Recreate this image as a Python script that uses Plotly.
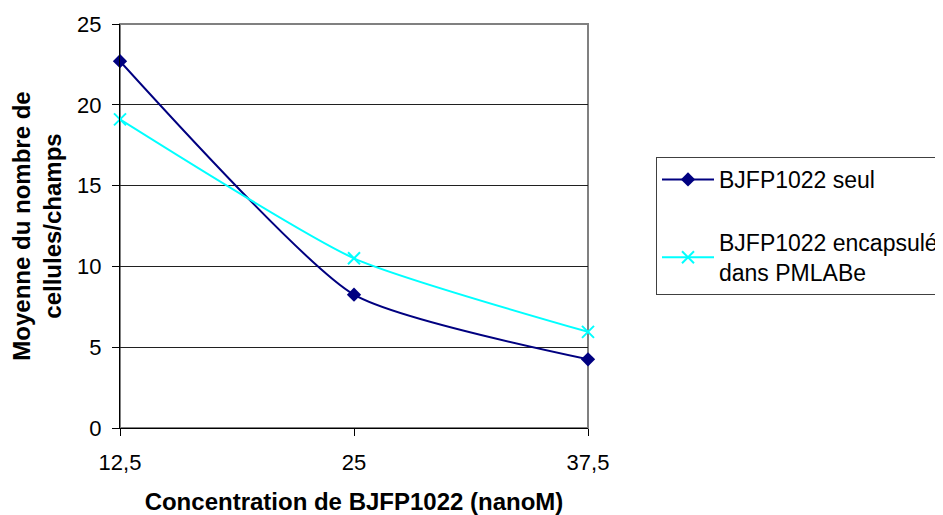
import plotly.graph_objects as go

concentrations = [12.5, 25, 37.5]
tick_labels = ["12,5", "25", "37,5"]
seul = [22.7, 8.25, 4.25]
encapsule = [19.1, 10.5, 5.95]
series_names = ["BJFP1022 seul", "BJFP1022 encapsulé<br>dans PMLABe"]

font_family = "Liberation Sans, Arial, sans-serif"

fig = go.Figure()
fig.add_trace(go.Scatter(
    x=concentrations, y=seul, name=series_names[0], mode="lines+markers",
    line=dict(color="#000080", width=2, shape="spline", smoothing=0.55),
    marker=dict(symbol="diamond", size=11, color="#000080"),
    legendgroup="a", cliponaxis=False))
fig.add_trace(go.Scatter(
    x=concentrations, y=encapsule, name=series_names[1], mode="lines+markers",
    line=dict(color="#00FFFF", width=2, shape="spline", smoothing=0.55),
    marker=dict(symbol="x-thin", size=12, color="#00FFFF", line=dict(color="#00FFFF", width=2)),
    legendgroup="b", cliponaxis=False))

# body has an 8px margin in the page: the figure is offset by 8px
fig.update_layout(
    width=935, height=507,
    margin=dict(l=112, r=355, t=16, b=87, autoexpand=False),
    paper_bgcolor="white", plot_bgcolor="white",
    font=dict(family=font_family, size=22, color="black"),
    showlegend=True,
    legend=dict(
        x=1.1453, xanchor="left", y=0.6708, yanchor="top",
        bgcolor="white", bordercolor="#404040", borderwidth=1,
        font=dict(size=23, family=font_family),
        traceorder="grouped", tracegroupgap=30, itemwidth=52,
    ),
    xaxis=dict(
        range=[12.5, 37.5], tickvals=concentrations, ticktext=tick_labels,
        showgrid=False, zeroline=False, showline=True, linecolor="black", linewidth=1,
        ticks="outside", ticklen=7, tickcolor="black", ticklabelstandoff=8,
        title=dict(text="<b>Concentration de BJFP1022 (nanoM)</b>", font=dict(size=24), standoff=28),
        tickfont=dict(size=22),
    ),
    yaxis=dict(
        range=[0, 25], tickvals=[0, 5, 10, 15, 20, 25],
        showgrid=True, gridcolor="#202020", gridwidth=1, zeroline=False,
        showline=True, linecolor="black", linewidth=1,
        ticks="outside", ticklen=7, tickcolor="black", ticklabelstandoff=6,
        title=dict(text="<b>Moyenne du nombre de<br>cellules/champs</b>", font=dict(size=24), standoff=14),
        tickfont=dict(size=22),
    ),
)
# plot-area border (top/right) in gray
fig.add_shape(type="rect", xref="paper", yref="paper", x0=0, x1=1, y0=0, y1=1,
              line=dict(color="#808080", width=2), layer="below")

fig.write_html("out.html")
